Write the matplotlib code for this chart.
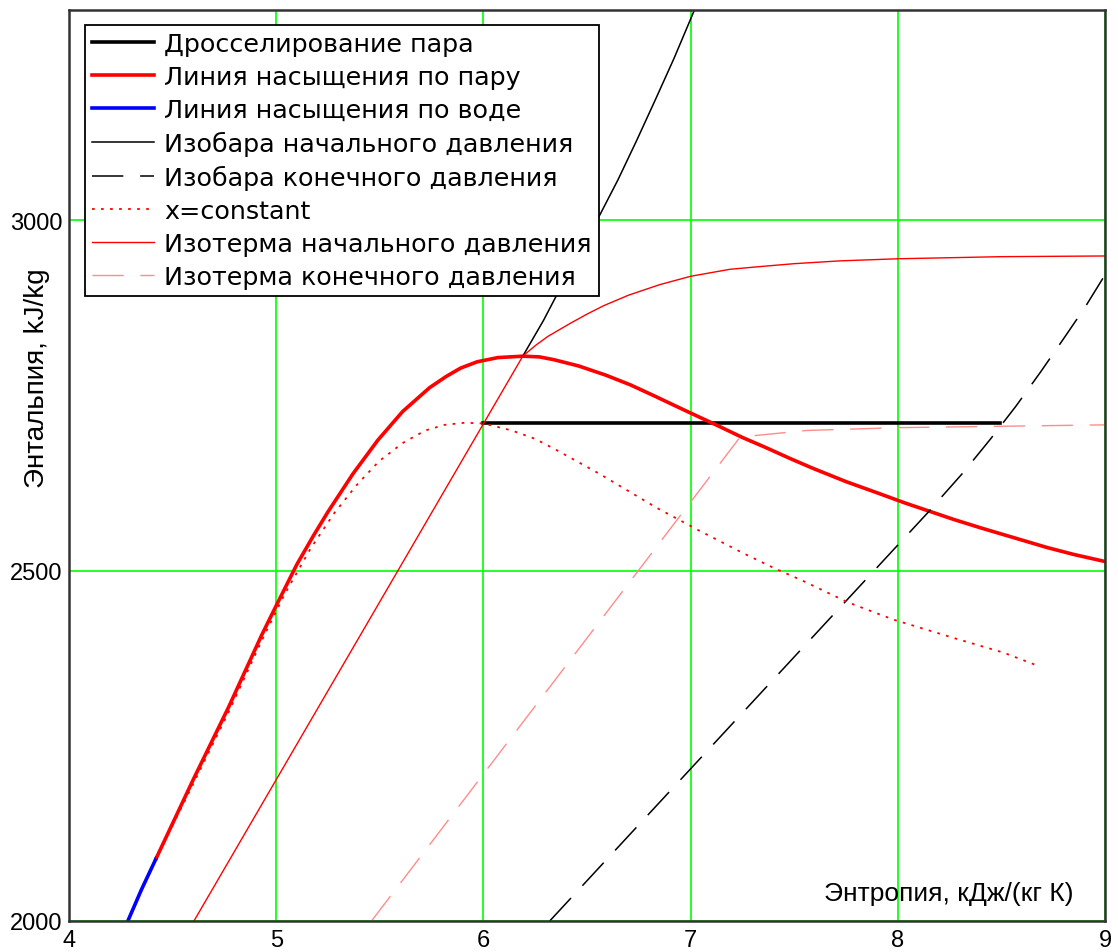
import matplotlib.pyplot as plt

plt.rcParams['font.family'] = ['DejaVu Sans']

# throttling of steam, h = const
thr_s = [6.0, 8.494]
thr_h = [2710, 2710]

# saturated vapour line
vap_s = [4.42, 4.60, 4.77, 4.93, 5.00, 5.10, 5.18, 5.25, 5.37, 5.49, 5.61, 5.74, 5.82, 5.89,
         5.97, 6.07, 6.19, 6.27, 6.34, 6.46, 6.59, 6.71, 6.82, 6.97, 7.13, 7.25, 7.36, 7.48,
         7.59, 7.75, 7.91, 8.03, 8.15, 8.27, 8.40, 8.56, 8.72, 8.85, 9.0]
vap_h = [2089, 2202, 2305, 2408, 2450, 2509, 2550, 2584, 2638, 2686, 2727, 2761, 2777, 2789,
         2798, 2804, 2806, 2805, 2801, 2792, 2779, 2765, 2750, 2729, 2707, 2690, 2676, 2660,
         2646, 2627, 2610, 2597, 2585, 2573, 2561, 2547, 2533, 2523, 2513]

# saturated water line
liq_s = [4.284, 4.35, 4.42]
liq_h = [2000, 2045, 2089]

# isobar, initial pressure
p1_s = [6.19, 6.29, 6.41, 6.54, 6.65, 6.74, 6.83, 6.92, 7.00, 7.04]
p1_h = [2806, 2857, 2925, 2995, 3058, 3114, 3172, 3231, 3287, 3315]

# isobar, final pressure
p2_s = [6.32, 8.152, 8.175, 8.316, 8.448, 8.571, 8.688, 8.798, 8.904, 9.0]
p2_h = [2000, 2585, 2593, 2640, 2688, 2735, 2783, 2830, 2876, 2922]

# dryness x = const
x_s = [4.42, 4.60, 4.77, 4.93, 5.04, 5.167, 5.28, 5.388, 5.496, 5.61, 5.72, 5.813, 5.91, 6.0,
       6.137, 6.25, 6.353, 6.561, 6.834, 7.042, 7.253, 7.40, 7.538, 7.757, 7.98, 8.28, 8.51, 8.66]
x_h = [2089, 2196, 2298, 2400, 2466, 2532, 2582, 2622, 2656, 2682, 2700, 2708, 2711, 2710,
       2700, 2688, 2672, 2638, 2590, 2557, 2525, 2504, 2486, 2455, 2430, 2403, 2383, 2366]

# isotherm, initial pressure
t1_s = [4.603, 6.19, 6.25, 6.31, 6.42, 6.50, 6.58, 6.70, 6.85, 7.00, 7.19, 7.34, 7.50, 7.72,
        8.00, 8.50, 9.00]
t1_h = [2000, 2806, 2821, 2834, 2853, 2866, 2878, 2893, 2908, 2920, 2930, 2934, 2938, 2942,
        2945, 2948, 2949]

# isotherm, final pressure
t2_s = [5.46, 7.24, 7.32, 7.56, 8.0, 8.5, 9.0]
t2_h = [2000, 2691, 2693, 2700, 2704, 2706, 2708]

fig = plt.figure(figsize=(11.18, 9.53), dpi=100)
ax = fig.add_axes([69/1118, 1 - 922/953, (1105 - 69)/1118, (922 - 11)/953])

ax.plot(thr_s, thr_h, color='black', lw=2.6, label='Дросселирование пара')
ax.plot(vap_s, vap_h, color='red', lw=2.6, label='Линия насыщения по пару')
ax.plot(liq_s, liq_h, color='blue', lw=2.6, label='Линия насыщения по воде')
ax.plot(p1_s, p1_h, color='black', lw=1.1, label='Изобара начального давления')
ax.plot(p2_s, p2_h, color='black', lw=1.1, ls=(0, (20.5, 11)), label='Изобара конечного давления')
ax.plot(x_s, x_h, color='red', lw=1.3, ls=(0, (1.5, 3.5)), label='x=constant')
ax.plot(t1_s, t1_h, color='red', lw=1.0, label='Изотерма начального давления')
ax.plot(t2_s, t2_h, color='#ff8c8c', lw=1.0, ls=(0, (22.5, 12)), label='Изотерма конечного давления')

ax.set_xlim(4, 9)
ax.set_ylim(2000, 3300)
ax.set_xticks([4, 5, 6, 7, 8, 9])
ax.set_yticks([2000, 2500, 3000])
ax.grid(True, color='#00ff00', lw=1.2)
ax.set_axisbelow(True)
ax.tick_params(axis='x', length=0, pad=6)
ax.tick_params(axis='y', length=0, pad=4.5)
for lab in ax.get_xticklabels() + ax.get_yticklabels():
    lab.set_fontfamily('Liberation Sans')
    lab.set_fontsize(17)
for sp in ax.spines.values():
    sp.set_color('#333333')
    sp.set_linewidth(1.8)

fig.text(37/1118, 1 - 378/953, 'Энтальпия, kJ/kg', rotation=90, ha='center', va='center',
         fontsize=20, family='Liberation Sans')
fig.text(1073/1118, 1 - 894/953, 'Энтропия, кДж/(кг К)', ha='right', va='center',
         fontsize=19, family='Liberation Sans')

leg = ax.legend(loc='upper left', bbox_to_anchor=(85/1118, 1 - 26/953), bbox_transform=fig.transFigure,
                borderaxespad=0, fontsize=18.3, handlelength=2.44, handletextpad=0.39, labelspacing=0.35,
                borderpad=0.28, fancybox=False, framealpha=1, edgecolor='black')
leg.get_frame().set_linewidth(1.3)

plt.savefig('out.png', dpi=100)
